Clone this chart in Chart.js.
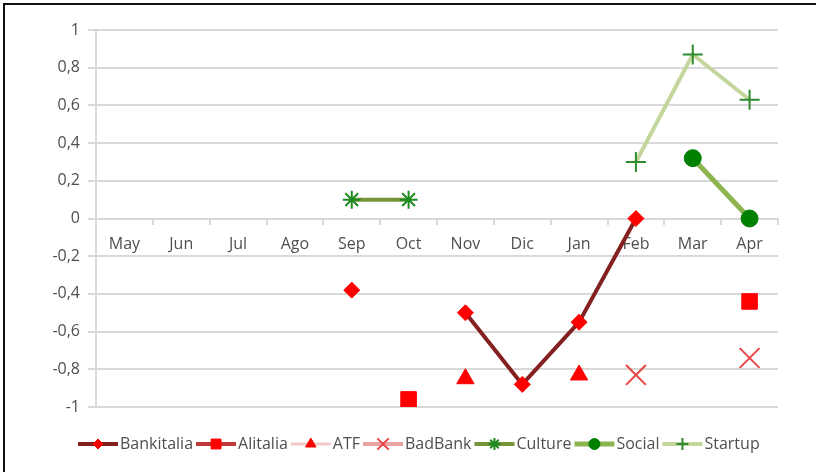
<!DOCTYPE html>
<html>
<head>
<meta charset="utf-8">
<script src="https://cdn.jsdelivr.net/npm/chart.js@4.4.1/dist/chart.umd.min.js"></script>
<style>
  html, body { margin: 0; padding: 0; background: #fff; }
  canvas { display: block; }
</style>
</head>
<body>
<canvas id="grafico" width="816" height="472"></canvas>
<script>
const meses = ['May', 'Jun', 'Jul', 'Ago', 'Sep', 'Oct', 'Nov', 'Dic', 'Jan', 'Feb', 'Mar', 'Apr'];

const bankitalia = [null, null, null, null, -0.38, null, -0.5, -0.88, -0.55, 0, null, null];
const alitalia   = [null, null, null, null, null, -0.96, null, null, null, null, null, -0.44];
const atf        = [null, null, null, null, null, null, -0.85, null, -0.83, null, null, null];
const badBank    = [null, null, null, null, null, null, null, null, null, -0.83, null, -0.74];
const culture    = [null, null, null, null, 0.1, 0.1, null, null, null, null, null, null];
const social     = [null, null, null, null, null, null, null, null, null, null, 0.32, 0];
const startup    = [null, null, null, null, null, null, null, null, null, 0.3, 0.87, 0.63];

const yMin = -1, yMax = 1, yStep = 0.2;

const fonte = '"Open Sans", "Noto Sans", sans-serif';
const cinza = '#4f4f4f';
const grade = '#d9d9d9';

function serie(label, data, linha, largura, ponto, cor, raio, raioLegenda) {
  return {
    label, data,
    borderColor: linha,
    borderWidth: largura,
    pointStyle: ponto,
    pointRadius: raio,
    pointHoverRadius: raio,
    pointBackgroundColor: cor,
    pointBorderColor: cor,
    pointBorderWidth: (ponto === 'crossRot' || ponto === 'cross' || ponto === 'star') ? 2 : 1,
    spanGaps: false,
    tension: 0,
    raioLegenda
  };
}

const datasets = [
  serie('Bankitalia', bankitalia, '#842020', 4, 'rectRot', '#ff0000', 8, 5),
  serie('Alitalia', alitalia, '#c03a3a', 4, 'rect', '#ff0000', 11, 7),
  serie('ATF', atf, '#f3c9c9', 3, 'triangle', '#ff0000', 10, 6),
  serie('BadBank', badBank, '#e9a3a3', 4, 'crossRot', '#ea4343', 14, 8),
  serie('Culture', culture, '#77933c', 4, 'star', '#1f8a1f', 9, 6),
  serie('Social', social, '#8db54f', 5, 'circle', '#008000', 8.5, 5.5),
  serie('Startup', startup, '#c3d69b', 4, 'cross', '#2e8b2e', 10, 6)
];

// legenda desenhada à mão: linha + marcador + texto
const legendaPlugin = {
  id: 'legendaLinha',
  afterDraw(chart) {
    const ctx = chart.ctx;
    const y = 444;
    let x = 78;
    ctx.save();
    ctx.font = '16px ' + fonte;
    ctx.textBaseline = 'middle';
    chart.data.datasets.forEach(ds => {
      ctx.strokeStyle = ds.borderColor;
      ctx.lineWidth = ds.borderWidth;
      ctx.beginPath();
      ctx.moveTo(x, y);
      ctx.lineTo(x + 40, y);
      ctx.stroke();
      ctx.fillStyle = ds.pointBackgroundColor;
      ctx.strokeStyle = ds.pointBorderColor;
      ctx.lineWidth = ds.pointBorderWidth;
      Chart.helpers.drawPoint(ctx, {
        pointStyle: ds.pointStyle,
        radius: ds.raioLegenda,
        rotation: 0,
        borderWidth: ds.pointBorderWidth
      }, x + 20, y);
      ctx.fillStyle = cinza;
      ctx.fillText(ds.label, x + 42, y);
      x += 42 + ctx.measureText(ds.label).width + 3;
    });
    // moldura (topo e esquerda)
    ctx.fillStyle = '#111';
    ctx.fillRect(3, 3, 813, 2);
    ctx.fillRect(3, 3, 2, 469);
    ctx.restore();
  }
};

const ctx = document.getElementById('grafico').getContext('2d');

let grafico = new Chart(ctx, {
  type: 'line',
  data: { labels: meses, datasets },
  options: {
    responsive: false,
    animation: false,
    layout: { padding: { left: 0, right: 38, top: 30, bottom: 65 } },
    plugins: {
      legend: { display: false },
      tooltip: { enabled: false }
    },
    scales: {
      x: {
        position: { y: 0 },
        offset: true,
        grid: {
          offset: true,
          drawOnChartArea: false,
          drawTicks: true,
          tickLength: 5,
          color: grade,
          lineWidth: 2
        },
        border: { display: true, color: grade, width: 2 },
        ticks: {
          color: cinza,
          font: { family: fonte, size: 16 },
          padding: 11,
          maxRotation: 0,
          autoSkip: false
        }
      },
      y: {
        min: yMin,
        max: yMax,
        afterFit: s => { s.width = 96; },
        grid: {
          color: grade,
          lineWidth: 2,
          drawTicks: true,
          tickLength: 8
        },
        border: { display: true, color: grade, width: 2 },
        ticks: {
          stepSize: yStep,
          color: cinza,
          padding: 8,
          font: { family: fonte, size: 16 },
          callback: v => String(Math.round(v * 10) / 10).replace('.', ',')
        }
      }
    }
  },
  plugins: [legendaPlugin]
});
</script>
</body>
</html>
